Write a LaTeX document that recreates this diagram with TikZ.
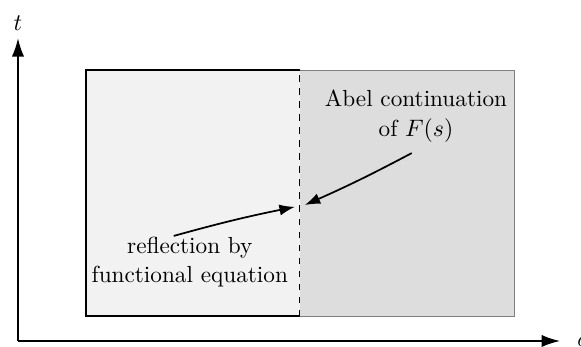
\documentclass[tikz,border=0pt]{standalone}
\usetikzlibrary{arrows.meta}
\begin{document}
\begin{tikzpicture}[every node/.style={font=\fontsize{10.7}{13.5}\selectfont}]
        \useasboundingbox (-0.291,-0.097) rectangle (9.109,5.517);
        % Regions
        \fill[gray!10] (1.10,0.40) rectangle (4.56,4.385);
        \fill[gray!27] (4.56,0.40) rectangle (8.04,4.385);
        \draw[gray] (4.56,0.40) -- (8.04,0.40) -- (8.04,4.385) -- (4.56,4.385);
        \draw[black, thick] (4.56,0.40) -- (1.10,0.40) -- (1.10,4.385) -- (4.56,4.385);
        \draw[dashed] (4.56,0.40) -- (4.56,4.385);
        
        % Axes
        \draw[-{Latex[length=3mm,width=2mm]}, thick] (0,0) -- (8.77,0) node[right, xshift=1.5mm] {$\sigma$};
        \draw[-{Latex[length=3mm,width=2mm]}, thick] (0,0) -- (0,4.90) node[above] {$t$};
        
        % Labels
        \node[align=center] (abel) at (6.44,3.64) {Abel continuation\\of $F(s)$};
        \node[align=center] (refl) at (2.78,1.28) {reflection by\\functional equation};
        \coordinate (abelstart) at (6.37,3.04);
        \coordinate (reflstart) at (2.52,1.70);
        \coordinate (abelend) at (4.64,2.20);
        \coordinate (reflend) at (4.48,2.17);
        
        % Arrows towards the line
        \draw[-{Latex[length=2.5mm,width=1.8mm]}, thick] (abelstart) to[bend left=2] (abelend);
        \draw[-{Latex[length=2.5mm,width=1.8mm]}, thick] (reflstart) to[bend left=2] (reflend);
    \end{tikzpicture}
\end{document}
